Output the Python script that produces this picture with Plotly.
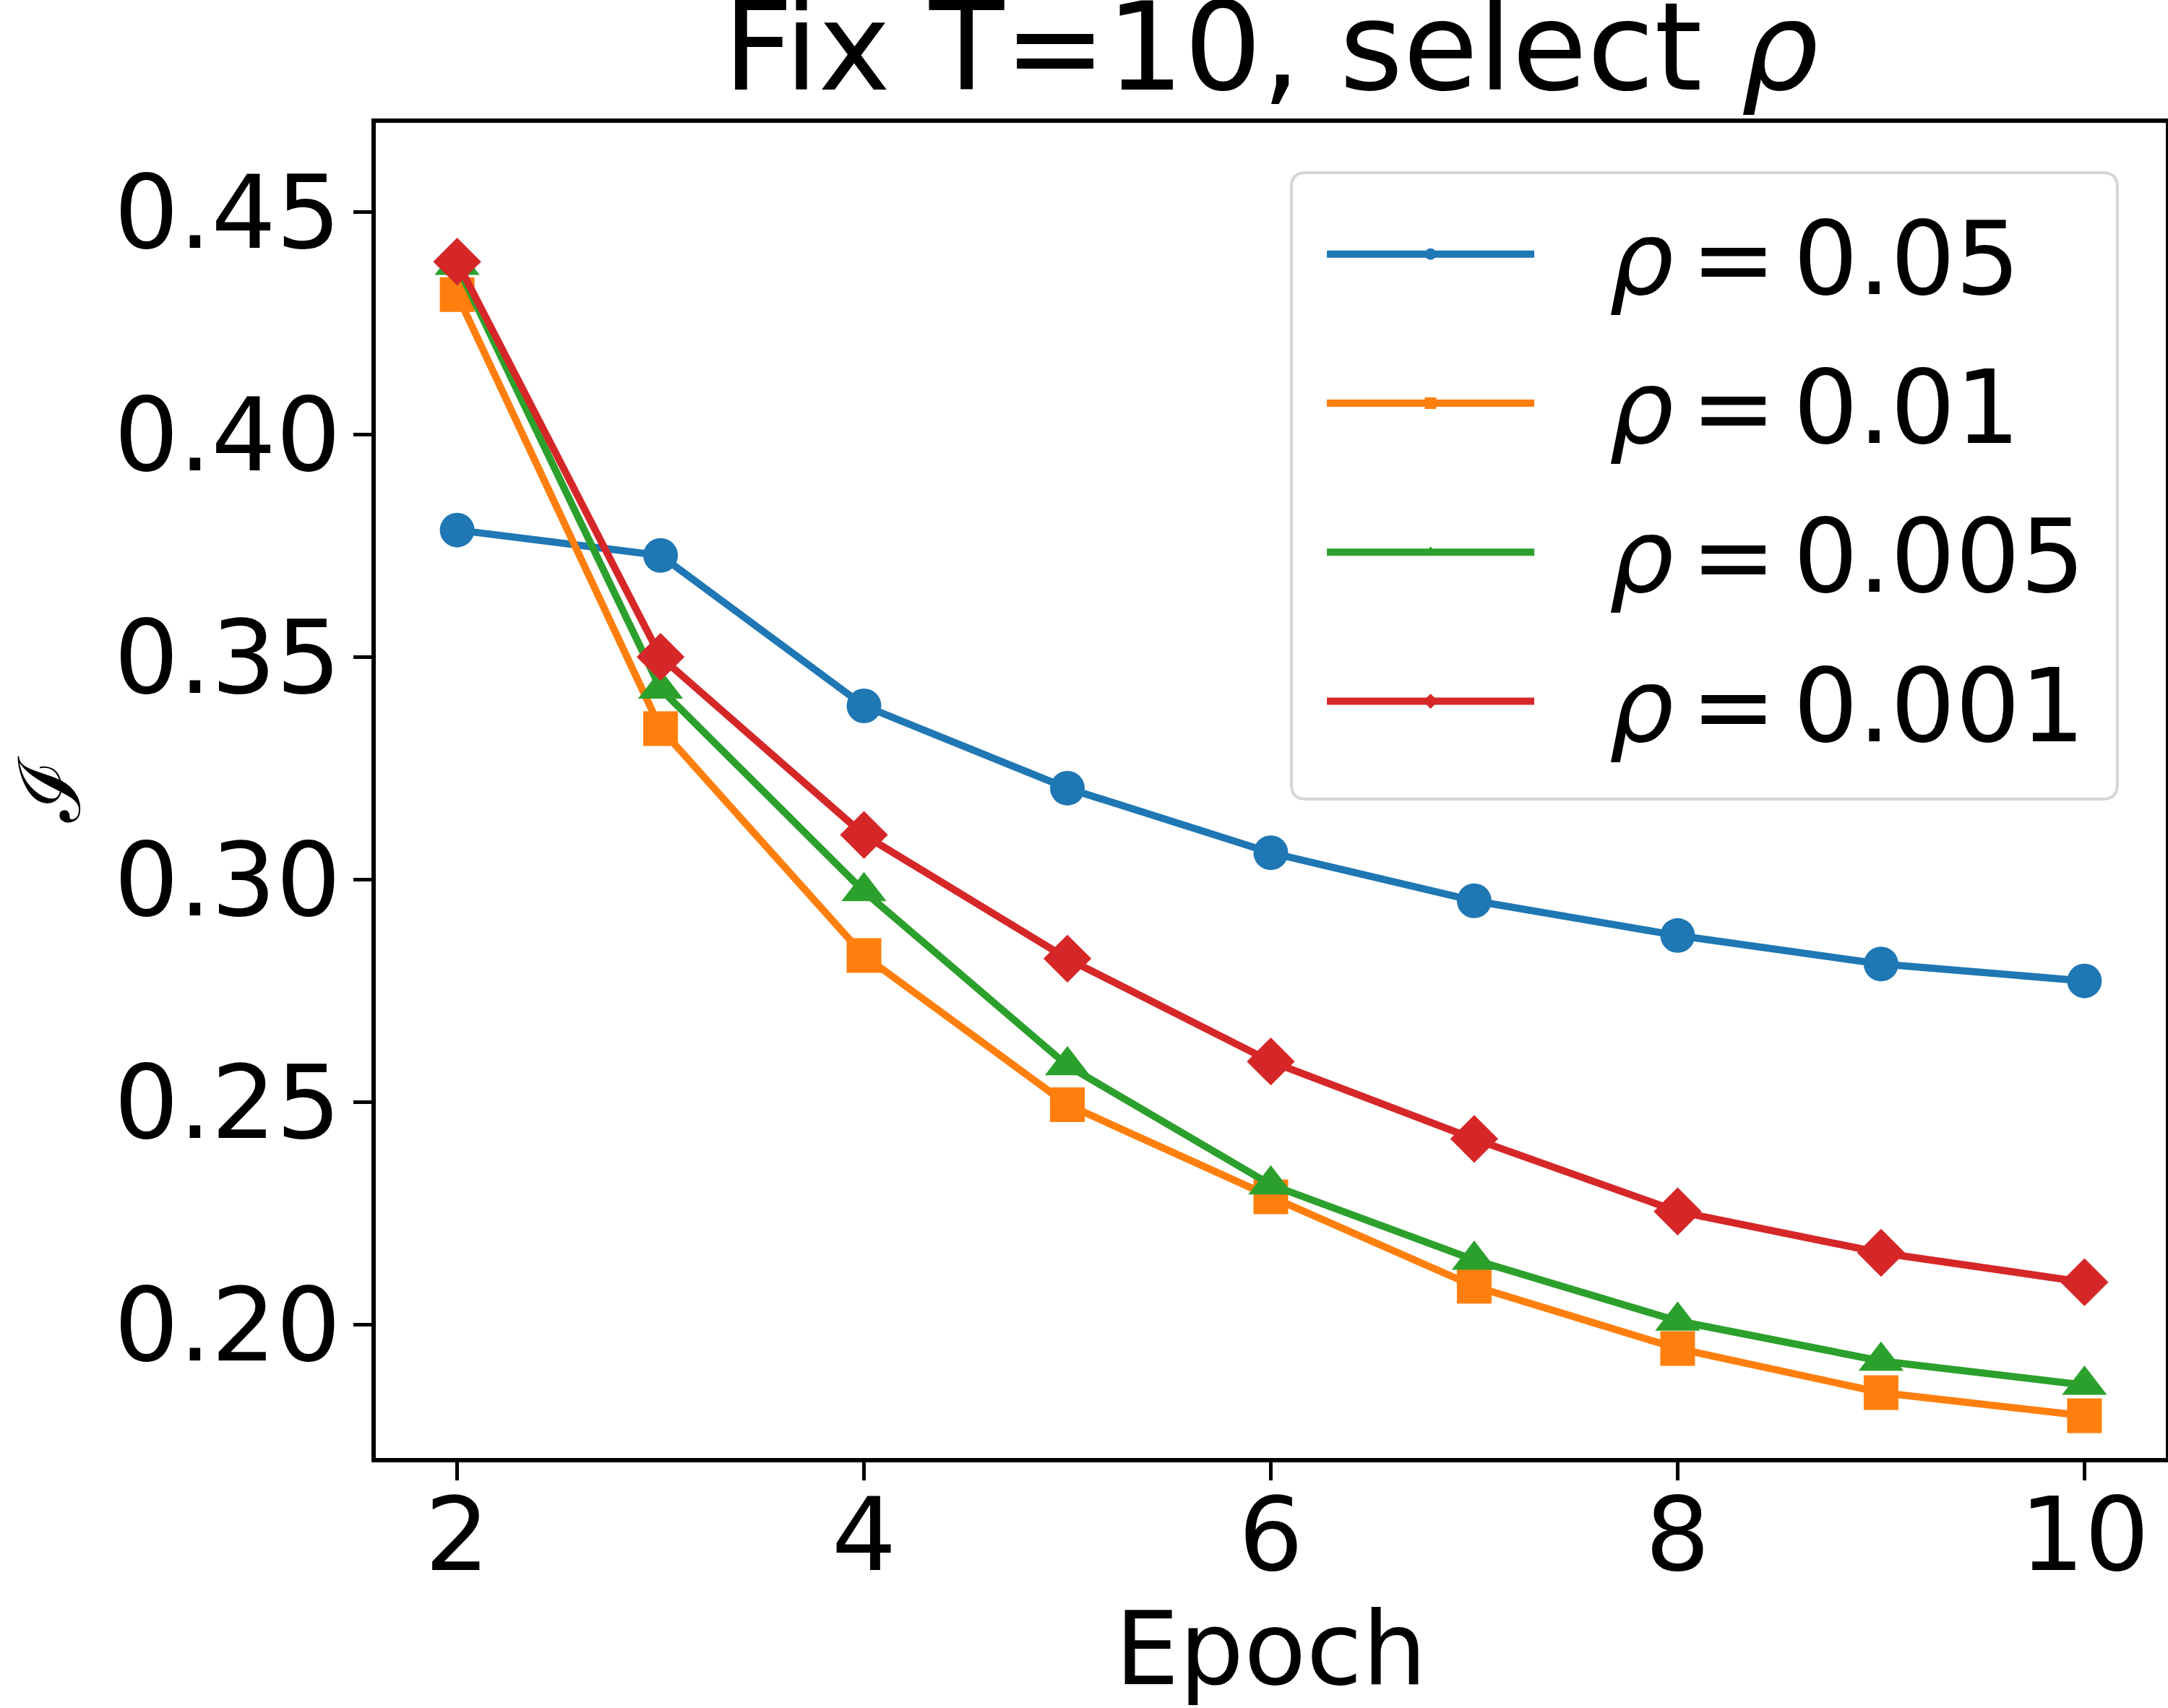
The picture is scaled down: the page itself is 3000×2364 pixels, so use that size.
import plotly.graph_objects as go

# ---- data ----
epochs = [2, 3, 4, 5, 6, 7, 8, 9, 10]
rho_0_05 = [0.3785, 0.3728, 0.3390, 0.3205, 0.3060, 0.2952, 0.2874, 0.2810, 0.2772]
rho_0_01 = [0.4314, 0.3339, 0.2829, 0.2494, 0.2287, 0.2086, 0.1946, 0.1847, 0.1795]
rho_0_005 = [0.4380, 0.3428, 0.2973, 0.2582, 0.2314, 0.2145, 0.2008, 0.1918, 0.1864]
rho_0_001 = [0.4388, 0.3500, 0.3100, 0.2822, 0.2591, 0.2417, 0.2254, 0.2161, 0.2095]
series_names = ["0.05", "0.01", "0.005", "0.001"]
x_ticks = [2, 4, 6, 8, 10]
y_ticks = [0.20, 0.25, 0.30, 0.35, 0.40, 0.45]

# ---- styles ----
colors = ["#1f77b4", "#ff7f0e", "#2ca02c", "#d62728"]
symbols = ["circle", "square", "triangle-up", "diamond"]
msizes = [48, 48, 54, 51]
FONT = "DejaVu Sans"
BASE = 141

fig = go.Figure()
for i, ys in enumerate([rho_0_05, rho_0_01, rho_0_005, rho_0_001]):
    fig.add_trace(go.Scatter(
        x=epochs, y=ys, mode="lines+markers",
        name="\u2002\u2009<i>\u03c1</i>\u2006=\u2006" + series_names[i],
        legendgroup="g%d" % i,
        line=dict(color=colors[i], width=10),
        marker=dict(symbol=symbols[i], size=msizes[i], color=colors[i],
                    line=dict(width=0)),
        hoverinfo="skip",
    ))

axis_common = dict(
    showline=True, linecolor="black", linewidth=6, mirror=True,
    ticks="outside", ticklen=25, tickwidth=5, tickcolor="black",
    showgrid=False, zeroline=False, automargin=False,
    tickfont=dict(family=FONT, size=BASE, color="black"),
)

# rounded legend frame (decoration, in paper coordinates)
x0, x1, y0, y1 = 0.5115, 0.9729, 0.4935, 0.9627
rx, ry = 0.0081, 0.0108
frame_path = (f"M {x0+rx},{y1} L {x1-rx},{y1} Q {x1},{y1} {x1},{y1-ry} "
              f"L {x1},{y0+ry} Q {x1},{y0} {x1-rx},{y0} L {x0+rx},{y0} "
              f"Q {x0},{y0} {x0},{y0+ry} L {x0},{y1-ry} Q {x0},{y1} {x0+rx},{y1} Z")

fig.update_layout(
    width=3000, height=2364,
    margin=dict(l=520, r=3, t=170, b=346),
    paper_bgcolor="white", plot_bgcolor="white",
    font=dict(family=FONT, size=BASE, color="black"),
    title=dict(text="Fix T=10, select <i>\u03c1</i>",
               font=dict(family=FONT, size=169, color="black"),
               x=0.5, xref="paper", xanchor="center",
               y=1, yref="paper", yanchor="bottom", pad=dict(b=46)),
    xaxis=dict(range=[1.6, 10.4], tickvals=x_ticks,
               title=dict(text="Epoch", font=dict(family=FONT, size=BASE), standoff=70),
               ticklabelstandoff=-45, **axis_common),
    yaxis=dict(range=[0.17, 0.47], tickvals=y_ticks, tickformat=".2f",
               title=dict(text="\u2110", font=dict(family="DejaVu Serif", size=118), standoff=45),
               ticklabelstandoff=-11, **axis_common),
    shapes=[dict(type="path", path=frame_path, xref="paper", yref="paper",
                 line=dict(color="#d6d6d6", width=4), fillcolor="white",
                 layer="above")],
    showlegend=True,
    legend=dict(
        x=0.5293, xanchor="left", y=0.9548, yanchor="top",
        xref="paper", yref="paper",
        bgcolor="rgba(0,0,0,0)", borderwidth=0,
        font=dict(family=FONT, size=BASE, color="black"),
        itemwidth=287, traceorder="grouped", tracegroupgap=20,
    ),
)

fig.write_html("out.html", config={"displayModeBar": False},
               post_script="document.body.style.margin='0px';")
